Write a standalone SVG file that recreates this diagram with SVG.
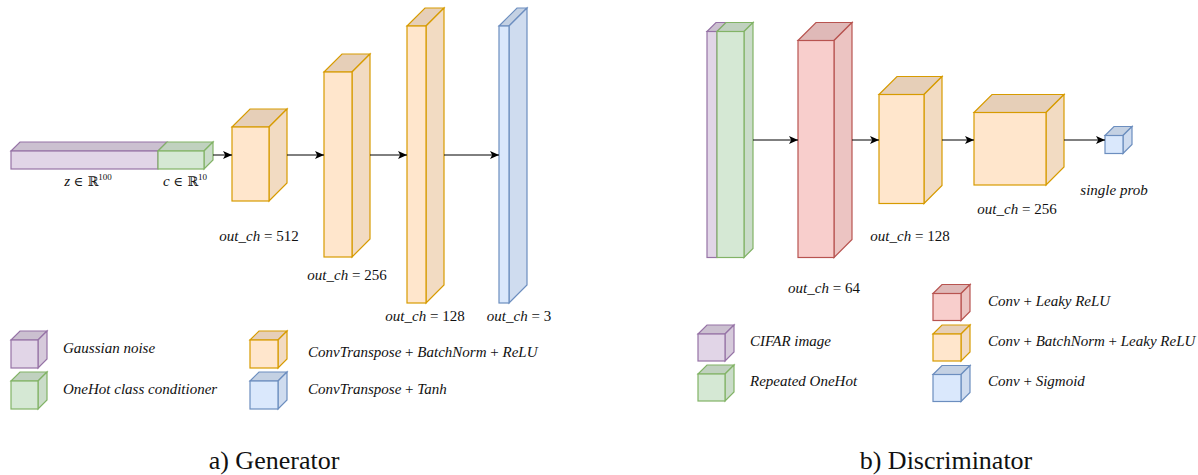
<svg xmlns="http://www.w3.org/2000/svg" width="1198" height="475" viewBox="0 0 1198 475" font-family="Liberation Serif">
<style>
.m{font-family:'Liberation Serif',serif;font-size:15px;fill:#111;}
.i{font-style:italic;}
.sym{font-family:'DejaVu Serif',serif;font-size:13px;}
.sup{font-size:9px;}
.cap{font-family:'Liberation Serif',serif;font-size:26px;fill:#111;}
.f,.t,.s{stroke-width:1.2;}
.pu .f{fill:#e1d5e7}.pu .t{fill:#cbc0d0}.pu .s{fill:#d6cadb}.pu .f,.pu .t,.pu .s{stroke:#9673a6}
.gr .f{fill:#d5e8d4}.gr .t{fill:#c0d1bf}.gr .s{fill:#cadcc9}.gr .f,.gr .t,.gr .s{stroke:#82b366}
.or .f{fill:#ffe6cc}.or .t{fill:#e6cfb8}.or .s{fill:#f2dbc2}.or .f,.or .t,.or .s{stroke:#d79b00}
.bl .f{fill:#dae8fc}.bl .t{fill:#c4d1e3}.bl .s{fill:#cfdcef}.bl .f,.bl .t,.bl .s{stroke:#6c8ebf}
.rd .f{fill:#f8cecc}.rd .t{fill:#dfb9b8}.rd .s{fill:#ecc4c2}.rd .f,.rd .t,.rd .s{stroke:#b85450}
.conn line{stroke:#000;stroke-width:1;}
</style>
<defs>
<marker id="arr" markerUnits="userSpaceOnUse" markerWidth="10" markerHeight="8" refX="9" refY="4" orient="auto">
<path d="M0,0 L9,4 L0,8 L2.2,4 Z" fill="#000"/>
</marker>
</defs>
<rect width="1198" height="475" fill="#fff"/>

<g id="g-input">
<g class="pu">
<polygon class="t" points="11,151 20,142 167,142 158,151"/>
<rect class="f" x="11" y="151" width="147" height="18"/>
</g>
<g class="gr">
<polygon class="t" points="158,151 167,142 213,142 204,151"/>
<polygon class="s" points="204,151 213,142 213,160 204,169"/>
<rect class="f" x="158" y="151" width="46" height="18"/>
</g>
</g>
<g id="g-block1" class="or">
<polygon class="t" points="232,127 250,109 287,109 269,127"/>
<polygon class="s" points="269,127 287,109 287,183 269,201"/>
<rect class="f" x="232" y="127" width="37" height="74"/>
</g>
<g id="g-block2" class="or">
<polygon class="t" points="324,72 342,54 370,54 352,72"/>
<polygon class="s" points="352,72 370,54 370,239 352,257"/>
<rect class="f" x="324" y="72" width="28" height="185"/>
</g>
<g id="g-block3" class="or">
<polygon class="t" points="407,26 425,8 444,8 426,26"/>
<polygon class="s" points="426,26 444,8 444,285 426,303"/>
<rect class="f" x="407" y="26" width="19" height="277"/>
</g>
<g id="g-block4" class="bl">
<polygon class="t" points="499,26 517,8 527,8 509,26"/>
<polygon class="s" points="509,26 527,8 527,285 509,303"/>
<rect class="f" x="499" y="26" width="10" height="277"/>
</g>

<g id="d-input">
<g class="pu">
<polygon class="t" points="707,31.5 716,22.5 726,22.5 717,31.5"/>
<rect class="f" x="707" y="31.5" width="10" height="226"/>
</g>
<g class="gr">
<polygon class="t" points="717,31.5 726,22.5 753,22.5 744,31.5"/>
<polygon class="s" points="744,31.5 753,22.5 753,248.5 744,257.5"/>
<rect class="f" x="717" y="31.5" width="27" height="226"/>
</g>
</g>
<g id="d-block1" class="rd">
<polygon class="t" points="798,40.5 816,22.5 852,22.5 834,40.5"/>
<polygon class="s" points="834,40.5 852,22.5 852,239.5 834,257.5"/>
<rect class="f" x="798" y="40.5" width="36" height="217"/>
</g>
<g id="d-block2" class="or">
<polygon class="t" points="879,94.5 897,76.5 942,76.5 924,94.5"/>
<polygon class="s" points="924,94.5 942,76.5 942,185.5 924,203.5"/>
<rect class="f" x="879" y="94.5" width="45" height="109"/>
</g>
<g id="d-block3" class="or">
<polygon class="t" points="974,112.5 992,94.5 1064,94.5 1046,112.5"/>
<polygon class="s" points="1046,112.5 1064,94.5 1064,167 1046,185"/>
<rect class="f" x="974" y="112.5" width="72" height="72.5"/>
</g>
<g id="d-out" class="bl">
<polygon class="t" points="1105,135.5 1114,126.5 1132,126.5 1123,135.5"/>
<polygon class="s" points="1123,135.5 1132,126.5 1132,144.5 1123,153.5"/>
<rect class="f" x="1105" y="135.5" width="18" height="18"/>
</g>

<g id="connectors" class="conn">
<line x1="213" y1="155" x2="232" y2="155" marker-end="url(#arr)"/>
<line x1="287" y1="155" x2="324" y2="155" marker-end="url(#arr)"/>
<line x1="370" y1="155" x2="407" y2="155" marker-end="url(#arr)"/>
<line x1="444" y1="155" x2="499" y2="155" marker-end="url(#arr)"/>
<line x1="753" y1="140" x2="798" y2="140" marker-end="url(#arr)"/>
<line x1="852" y1="140" x2="879" y2="140" marker-end="url(#arr)"/>
<line x1="942" y1="140" x2="974" y2="140" marker-end="url(#arr)"/>
<line x1="1064" y1="140" x2="1105" y2="140" marker-end="url(#arr)"/>
</g>

<g id="labels">
<text class="m" font-family="Liberation Serif" x="88" y="186" text-anchor="middle"><tspan class="i">z</tspan> <tspan class="sym" font-family="DejaVu Serif">∈ ℝ</tspan><tspan class="sup" dy="-6">100</tspan></text>
<text class="m" font-family="Liberation Serif" x="185" y="186" text-anchor="middle"><tspan class="i">c</tspan> <tspan class="sym" font-family="DejaVu Serif">∈ ℝ</tspan><tspan class="sup" dy="-6">10</tspan></text>
<text class="m" font-family="Liberation Serif" x="259" y="241" text-anchor="middle"><tspan class="i">out_ch</tspan> = 512</text>
<text class="m" font-family="Liberation Serif" x="347" y="280" text-anchor="middle"><tspan class="i">out_ch</tspan> = 256</text>
<text class="m" font-family="Liberation Serif" x="425" y="321" text-anchor="middle"><tspan class="i">out_ch</tspan> = 128</text>
<text class="m" font-family="Liberation Serif" x="519" y="321" text-anchor="middle"><tspan class="i">out_ch</tspan> = 3</text>
<text class="m" font-family="Liberation Serif" x="824" y="293" text-anchor="middle"><tspan class="i">out_ch</tspan> = 64</text>
<text class="m" font-family="Liberation Serif" x="910" y="241" text-anchor="middle"><tspan class="i">out_ch</tspan> = 128</text>
<text class="m" font-family="Liberation Serif" x="1017" y="214" text-anchor="middle"><tspan class="i">out_ch</tspan> = 256</text>
<text class="m i" font-family="Liberation Serif" x="1114" y="195" text-anchor="middle">single prob</text>
</g>

<g id="gl-noise">
<g class="pu">
<polygon class="t" points="11,340 20,331 47,331 38,340"/>
<polygon class="s" points="38,340 47,331 47,359 38,368"/>
<rect class="f" x="11" y="340" width="27" height="28"/>
</g>
<text class="m i" font-family="Liberation Serif" x="63" y="353">Gaussian noise</text>
</g>
<g id="gl-onehot">
<g class="gr">
<polygon class="t" points="11,381 20,372 47,372 38,381"/>
<polygon class="s" points="38,381 47,372 47,400 38,409"/>
<rect class="f" x="11" y="381" width="27" height="28"/>
</g>
<text class="m i" font-family="Liberation Serif" x="63" y="394">OneHot class conditioner</text>
</g>
<g id="gl-convt">
<g class="or">
<polygon class="t" points="250,340 259,331 287,331 278,340"/>
<polygon class="s" points="278,340 287,331 287,359 278,368"/>
<rect class="f" x="250" y="340" width="28" height="28"/>
</g>
<text class="m" font-family="Liberation Serif" x="308" y="357"><tspan class="i">ConvTranspose</tspan> + <tspan class="i">BatchNorm</tspan> + <tspan class="i">ReLU</tspan></text>
</g>
<g id="gl-tanh">
<g class="bl">
<polygon class="t" points="250,381 259,372 287,372 278,381"/>
<polygon class="s" points="278,381 287,372 287,400 278,409"/>
<rect class="f" x="250" y="381" width="28" height="28"/>
</g>
<text class="m" font-family="Liberation Serif" x="308" y="394"><tspan class="i">ConvTranspose</tspan> + <tspan class="i">Tanh</tspan></text>
</g>

<g id="dl-cifar">
<g class="pu">
<polygon class="t" points="698,334 707,325 734,325 725,334"/>
<polygon class="s" points="725,334 734,325 734,352 725,361"/>
<rect class="f" x="698" y="334" width="27" height="27"/>
</g>
<text class="m i" font-family="Liberation Serif" x="750" y="346">CIFAR image</text>
</g>
<g id="dl-onehot">
<g class="gr">
<polygon class="t" points="698,374 707,365 734,365 725,374"/>
<polygon class="s" points="725,374 734,365 734,392 725,401"/>
<rect class="f" x="698" y="374" width="27" height="27"/>
</g>
<text class="m i" font-family="Liberation Serif" x="750" y="386">Repeated OneHot</text>
</g>
<g id="dl-leaky">
<g class="rd">
<polygon class="t" points="933,293.5 942,284.5 970,284.5 961,293.5"/>
<polygon class="s" points="961,293.5 970,284.5 970,311.5 961,320.5"/>
<rect class="f" x="933" y="293.5" width="28" height="27"/>
</g>
<text class="m" font-family="Liberation Serif" x="988" y="306"><tspan class="i">Conv</tspan> + <tspan class="i">Leaky ReLU</tspan></text>
</g>
<g id="dl-bn">
<g class="or">
<polygon class="t" points="933,334 942,325 970,325 961,334"/>
<polygon class="s" points="961,334 970,325 970,352 961,361"/>
<rect class="f" x="933" y="334" width="28" height="27"/>
</g>
<text class="m" font-family="Liberation Serif" x="988" y="346"><tspan class="i">Conv</tspan> + <tspan class="i">BatchNorm</tspan> + <tspan class="i">Leaky ReLU</tspan></text>
</g>
<g id="dl-sig">
<g class="bl">
<polygon class="t" points="933,374.5 942,365.5 970,365.5 961,374.5"/>
<polygon class="s" points="961,374.5 970,365.5 970,392.5 961,401.5"/>
<rect class="f" x="933" y="374.5" width="28" height="27"/>
</g>
<text class="m" font-family="Liberation Serif" x="988" y="386"><tspan class="i">Conv</tspan> + <tspan class="i">Sigmoid</tspan></text>
</g>

<text class="cap" font-family="Liberation Serif" x="274" y="469" text-anchor="middle">a) Generator</text>
<text class="cap" font-family="Liberation Serif" x="946" y="469" text-anchor="middle">b) Discriminator</text>
</svg>
